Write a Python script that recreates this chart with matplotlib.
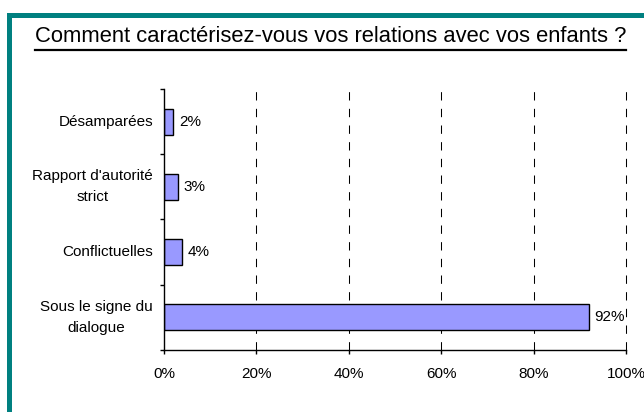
"""
Bar chart: Comment caractérisez-vous vos relations avec vos enfants ?
"""
import matplotlib
matplotlib.use("Agg")
import matplotlib.pyplot as plt
import matplotlib.patches as mpatches
from matplotlib.lines import Line2D
import numpy as np

plt.rcParams["font.family"] = ["Liberation Sans", "DejaVu Sans"]

# ── data (bottom to top) ─────────────────────────────────────────────────────
categories = ["Sous le signe du\ndialogue", "Conflictuelles",
              "Rapport d'autorité\nstrict", "Désamparées"]
values = [92, 4, 3, 2]
x_ticks = [0, 20, 40, 60, 80, 100]
x_tick_labels = ["0%", "20%", "40%", "60%", "80%", "100%"]
title = "Comment caractérisez-vous vos relations avec vos enfants ?"

BAR_COLOR = "#9999FF"
TEAL = "#008080"

W, H = 644, 412
fig = plt.figure(figsize=(W / 100, H / 100), dpi=100)
fig.patch.set_facecolor("white")

# teal frame (left + top strips)
fig.add_artist(mpatches.Rectangle((7 / W, 0), 5 / W, 1 - 13 / H,
                                  transform=fig.transFigure, color=TEAL, lw=0))
fig.add_artist(mpatches.Rectangle((7 / W, 1 - 18 / H), 1, 5 / H,
                                  transform=fig.transFigure, color=TEAL, lw=0))

ax = fig.add_axes([164 / W, 1 - 350 / H, (626 - 164) / W, (350 - 89) / H])
y = np.arange(len(categories))
bars = ax.barh(y, values, height=0.4, color=BAR_COLOR, edgecolor="black",
               linewidth=1.0, zorder=3)
ax.bar_label(bars, labels=[f"{v}%" for v in values], padding=4, fontsize=11)

ax.set_xlim(0, 100)
ax.set_ylim(-0.5, len(categories) - 0.5)
ax.set_xticks(x_ticks)
ax.set_xticklabels(x_tick_labels, fontsize=11)
ax.set_yticks(y)
ax.set_yticklabels(categories, fontsize=11, multialignment="center",
                   linespacing=1.65, va="center")
ax.set_yticks(np.arange(-0.5, len(categories), 1.0), minor=True)
ax.tick_params(axis="y", which="major", length=0, pad=8)
ax.tick_params(axis="y", which="minor", length=3, width=1, direction="out")
ax.tick_params(axis="x", length=3, width=1, direction="out", pad=9)

for s in ["top", "right"]:
    ax.spines[s].set_visible(False)
for s in ["left", "bottom"]:
    ax.spines[s].set_linewidth(1)
    ax.spines[s].set_zorder(4)

# dashed vertical gridlines, 100% included
for xt in x_ticks[1:]:
    ax.axvline(xt, color="black", linewidth=0.75, linestyle=(0, (8, 8)),
               zorder=1, clip_on=False)

# underlined title
txt = fig.text(330.5 / W, 1 - 41.7 / H, title, fontsize=15.8, ha="center",
               va="baseline")
fig.canvas.draw()
bb = txt.get_window_extent().transformed(fig.transFigure.inverted())
fig.add_artist(Line2D([bb.x0, bb.x1], [1 - 49.5 / H, 1 - 49.5 / H],
                      transform=fig.transFigure, color="black", linewidth=1.6))

fig.savefig("out.png", dpi=100)
plt.close(fig)
